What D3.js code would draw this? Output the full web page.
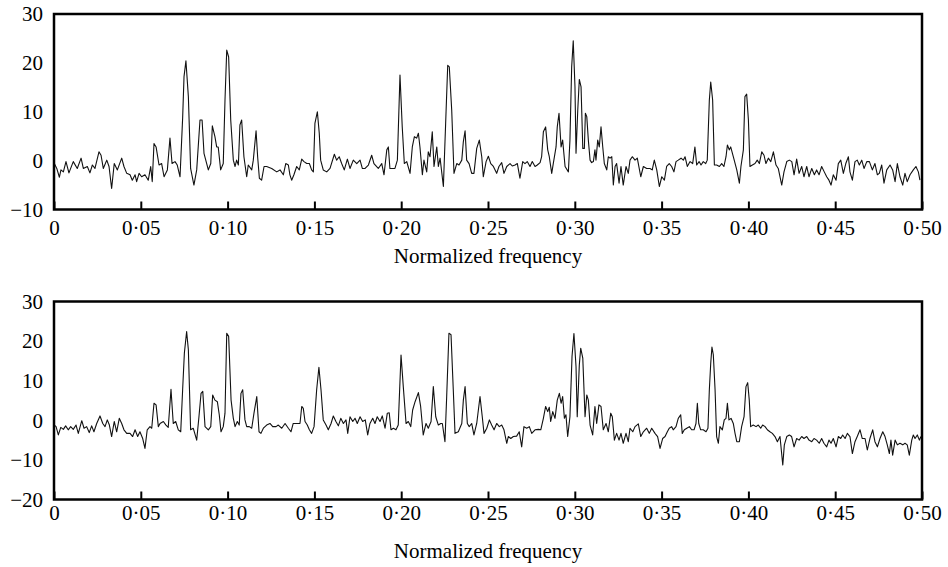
<!DOCTYPE html>
<html><head><meta charset="utf-8">
<script src="https://cdn.jsdelivr.net/npm/d3@7/dist/d3.min.js"></script>
<style>body{margin:0;background:#fff}svg{display:block}</style>
</head><body><svg id="chart" width="948" height="567"></svg>
<script>
// ---------- data ----------
const xTicks = [0, 0.05, 0.10, 0.15, 0.20, 0.25, 0.30, 0.35, 0.40, 0.45, 0.50];
const xTickLabels = ["0", "0·05", "0·10", "0·15", "0·20", "0·25", "0·30", "0·35", "0·40", "0·45", "0·50"];
const topYTicks = [-10, 0, 10, 20, 30];
const bottomYTicks = [-20, -10, 0, 10, 20, 30];
const xTitle = "Normalized frequency";

// [normalized frequency, level]
const topSpectrum = [[0.0002,-0.6],[0.0016,-1.6],[0.0031,-3.4],[0.0040,-1.9],[0.0054,-2.3],[0.0069,-0.2],[0.0086,-2.5],[0.0111,-0.2],[0.0134,-1.6],[0.0156,0.5],[0.0169,-1.6],[0.0192,-1.2],[0.0207,-2.5],[0.0221,-0.9],[0.0236,-1.6],[0.0259,1.8],[0.0271,1.1],[0.0284,-1.6],[0.0304,0.1],[0.0317,-1.2],[0.0332,-5.7],[0.0347,-0.6],[0.0365,-1.9],[0.0390,0.5],[0.0403,-1.2],[0.0419,-2.6],[0.0438,-2.9],[0.0451,-4.0],[0.0467,-2.9],[0.0476,-4.3],[0.0490,-2.6],[0.0505,-3.3],[0.0524,-2.9],[0.0543,-4.0],[0.0557,-1.2],[0.0566,-4.3],[0.0576,3.5],[0.0588,2.8],[0.0605,-0.9],[0.0620,-0.6],[0.0634,-3.3],[0.0653,-1.9],[0.0668,4.6],[0.0680,-0.6],[0.0697,-0.2],[0.0710,-0.9],[0.0726,-3.3],[0.0741,8.7],[0.0749,17.2],[0.0760,20.4],[0.0774,13.1],[0.0787,-1.6],[0.0806,-5.0],[0.0822,-1.9],[0.0841,8.3],[0.0853,8.3],[0.0864,1.5],[0.0889,-1.9],[0.0903,-0.6],[0.0912,7.1],[0.0927,4.9],[0.0937,2.8],[0.0946,2.8],[0.0960,-1.9],[0.0975,-0.6],[0.0985,12.4],[0.0995,22.6],[0.1006,21.2],[0.1018,8.3],[0.1033,0.1],[0.1043,-1.2],[0.1052,0.1],[0.1062,-0.9],[0.1071,7.3],[0.1081,8.3],[0.1094,0.8],[0.1110,-3.3],[0.1119,-0.9],[0.1139,-1.9],[0.1148,0.1],[0.1164,6.1],[0.1173,0.8],[0.1183,-3.6],[0.1196,-4.0],[0.1210,-1.2],[0.1225,-1.2],[0.1254,-1.6],[0.1283,-2.3],[0.1302,-1.9],[0.1321,-2.9],[0.1335,-0.6],[0.1350,-0.9],[0.1359,-2.9],[0.1369,-4.0],[0.1382,-2.9],[0.1398,-1.2],[0.1413,-1.9],[0.1427,0.3],[0.1440,-0.2],[0.1456,-0.6],[0.1471,-0.6],[0.1484,-1.9],[0.1494,-2.3],[0.1503,7.6],[0.1517,10.0],[0.1528,5.6],[0.1536,0.1],[0.1551,-1.9],[0.1571,-2.3],[0.1590,-1.6],[0.1615,1.3],[0.1628,0.1],[0.1643,0.8],[0.1657,-0.6],[0.1672,-1.9],[0.1690,0.3],[0.1705,-1.6],[0.1724,0.1],[0.1744,-0.6],[0.1763,0.1],[0.1776,-1.6],[0.1792,-1.6],[0.1811,-0.9],[0.1830,1.1],[0.1843,-0.6],[0.1868,-1.6],[0.1888,-0.6],[0.1901,-2.9],[0.1917,2.2],[0.1926,2.8],[0.1935,-1.6],[0.1964,-1.6],[0.1978,0.1],[0.1993,17.5],[0.2006,6.9],[0.2018,-0.6],[0.2032,-0.2],[0.2051,-2.6],[0.2064,2.8],[0.2076,4.9],[0.2089,4.6],[0.2099,5.6],[0.2108,2.8],[0.2122,-2.9],[0.2131,0.1],[0.2147,-2.3],[0.2156,1.8],[0.2166,0.8],[0.2179,5.9],[0.2189,-1.2],[0.2205,2.8],[0.2214,-1.2],[0.2224,0.5],[0.2243,-5.3],[0.2256,7.6],[0.2268,19.5],[0.2277,19.2],[0.2291,10.3],[0.2304,-2.6],[0.2320,-0.6],[0.2333,-0.9],[0.2349,0.1],[0.2358,3.9],[0.2368,6.1],[0.2377,0.1],[0.2391,-0.6],[0.2406,-2.6],[0.2419,-2.6],[0.2435,2.5],[0.2450,4.2],[0.2464,0.8],[0.2473,-3.3],[0.2489,-0.2],[0.2502,0.9],[0.2516,-0.6],[0.2531,-1.2],[0.2550,-2.6],[0.2563,-1.2],[0.2579,-0.4],[0.2592,-2.6],[0.2608,-1.2],[0.2627,-0.6],[0.2640,-1.1],[0.2656,-0.9],[0.2669,-0.6],[0.2684,-3.6],[0.2700,-0.2],[0.2713,-0.6],[0.2726,-0.2],[0.2742,-1.2],[0.2755,-0.2],[0.2771,-1.2],[0.2784,-0.9],[0.2800,-0.4],[0.2809,0.8],[0.2819,5.9],[0.2832,6.9],[0.2844,2.2],[0.2853,0.8],[0.2867,-2.6],[0.2876,-0.6],[0.2892,2.8],[0.2899,6.9],[0.2909,9.7],[0.2921,2.8],[0.2930,4.2],[0.2944,-1.2],[0.2963,-2.3],[0.2972,4.2],[0.2982,19.2],[0.2991,24.5],[0.3001,15.1],[0.3007,1.5],[0.3017,10.3],[0.3026,16.6],[0.3036,15.1],[0.3046,2.5],[0.3055,2.5],[0.3061,9.7],[0.3069,9.0],[0.3078,4.2],[0.3088,0.1],[0.3097,-0.4],[0.3107,-0.2],[0.3116,2.2],[0.3122,0.1],[0.3132,4.2],[0.3141,2.8],[0.3151,6.9],[0.3161,2.8],[0.3170,-0.6],[0.3184,-1.9],[0.3193,0.8],[0.3203,0.5],[0.3213,0.8],[0.3222,-5.0],[0.3232,-1.2],[0.3241,-0.6],[0.3255,-4.6],[0.3266,-1.2],[0.3279,-5.0],[0.3295,-1.2],[0.3308,-2.6],[0.3318,0.1],[0.3331,0.8],[0.3347,0.1],[0.3360,0.5],[0.3380,-3.3],[0.3395,-1.2],[0.3414,-1.6],[0.3433,-1.6],[0.3446,-1.9],[0.3458,0.1],[0.3472,-1.9],[0.3487,-5.3],[0.3501,-3.3],[0.3516,-4.0],[0.3529,-1.2],[0.3544,-0.6],[0.3558,-1.2],[0.3571,-2.3],[0.3583,-0.2],[0.3596,0.1],[0.3612,0.5],[0.3625,0.1],[0.3635,0.8],[0.3648,-1.2],[0.3664,-0.2],[0.3679,-0.6],[0.3692,2.8],[0.3702,-0.9],[0.3716,-0.2],[0.3727,-0.9],[0.3740,-0.2],[0.3754,-0.6],[0.3763,0.1],[0.3775,12.4],[0.3783,16.1],[0.3794,12.4],[0.3804,-0.9],[0.3817,-0.9],[0.3833,-1.2],[0.3846,-0.6],[0.3859,-1.2],[0.3871,0.8],[0.3879,3.2],[0.3890,2.2],[0.3898,2.8],[0.3913,0.8],[0.3933,-1.9],[0.3948,-4.6],[0.3957,-1.2],[0.3971,2.2],[0.3980,13.1],[0.3990,13.6],[0.4000,8.3],[0.4009,-1.2],[0.4023,-0.9],[0.4038,-0.6],[0.4051,0.1],[0.4063,-0.6],[0.4077,1.8],[0.4090,1.1],[0.4101,-0.6],[0.4115,0.5],[0.4129,-0.2],[0.4144,1.8],[0.4159,-0.9],[0.4172,-1.6],[0.4192,-5.0],[0.4205,-2.3],[0.4221,-0.2],[0.4236,0.1],[0.4250,-0.2],[0.4263,-2.9],[0.4278,0.3],[0.4292,-2.6],[0.4307,-1.2],[0.4320,-3.3],[0.4336,-1.2],[0.4349,-3.3],[0.4365,-1.6],[0.4380,-2.9],[0.4393,-1.9],[0.4407,-2.9],[0.4422,-1.2],[0.4437,-2.3],[0.4451,-3.3],[0.4464,-4.0],[0.4476,-5.0],[0.4489,-2.9],[0.4505,-4.0],[0.4518,-0.6],[0.4532,0.1],[0.4547,-2.6],[0.4561,-0.6],[0.4576,0.8],[0.4585,-2.3],[0.4599,-4.0],[0.4614,-0.2],[0.4627,0.1],[0.4639,-0.9],[0.4653,0.1],[0.4666,-1.6],[0.4682,-0.2],[0.4697,-0.2],[0.4714,-1.9],[0.4729,-0.6],[0.4743,-2.9],[0.4754,-2.6],[0.4768,-0.9],[0.4781,-4.6],[0.4797,-1.9],[0.4816,-0.9],[0.4831,-1.9],[0.4845,-4.3],[0.4858,-0.6],[0.4873,-3.3],[0.4889,-5.0],[0.4902,-2.6],[0.4915,-4.3],[0.4931,-2.9],[0.4950,-1.9],[0.4965,-1.2],[0.4979,-2.3],[0.4988,-4.0]];

const bottomSpectrum = [[0.0002,-1.2],[0.0012,-1.6],[0.0025,-3.7],[0.0039,-1.8],[0.0054,-2.3],[0.0067,-1.4],[0.0082,-2.4],[0.0096,-1.6],[0.0111,-2.3],[0.0127,-1.2],[0.0140,-3.3],[0.0160,-0.1],[0.0173,-2.0],[0.0188,-1.6],[0.0203,-3.1],[0.0217,-1.4],[0.0230,-2.9],[0.0246,-0.8],[0.0265,1.1],[0.0281,-0.8],[0.0294,-1.6],[0.0307,0.1],[0.0319,-1.2],[0.0332,-4.1],[0.0347,-0.3],[0.0361,-2.9],[0.0376,0.5],[0.0390,-0.8],[0.0403,-2.4],[0.0419,-3.3],[0.0438,-3.3],[0.0453,-4.1],[0.0467,-2.4],[0.0482,-4.1],[0.0495,-2.9],[0.0511,-4.6],[0.0524,-7.1],[0.0537,-2.4],[0.0553,-1.6],[0.0563,-2.0],[0.0576,4.3],[0.0588,3.9],[0.0601,-1.6],[0.0611,-0.8],[0.0630,-0.3],[0.0645,-1.2],[0.0658,-1.8],[0.0674,7.8],[0.0687,-0.8],[0.0701,-0.3],[0.0716,-2.4],[0.0730,-2.9],[0.0741,7.7],[0.0751,17.0],[0.0764,22.4],[0.0774,17.8],[0.0787,-2.4],[0.0802,-2.0],[0.0822,-5.0],[0.0835,0.9],[0.0847,6.8],[0.0857,7.3],[0.0870,-1.6],[0.0889,-2.4],[0.0903,-1.6],[0.0914,6.4],[0.0927,5.1],[0.0941,4.7],[0.0952,1.4],[0.0962,-2.9],[0.0975,-1.6],[0.0985,1.8],[0.0995,22.0],[0.1006,21.2],[0.1020,5.1],[0.1033,0.5],[0.1043,-1.6],[0.1056,-0.3],[0.1067,-1.2],[0.1077,6.8],[0.1087,7.7],[0.1100,0.1],[0.1110,-1.6],[0.1125,-1.6],[0.1139,-2.0],[0.1152,1.8],[0.1168,6.0],[0.1181,-2.9],[0.1192,-3.3],[0.1206,-2.0],[0.1225,-1.2],[0.1244,-0.8],[0.1260,-1.6],[0.1279,-1.6],[0.1292,-1.2],[0.1312,-2.0],[0.1331,-0.8],[0.1350,-2.0],[0.1365,-2.9],[0.1378,-0.8],[0.1398,-0.8],[0.1417,-0.8],[0.1427,3.5],[0.1436,3.0],[0.1446,-0.3],[0.1459,-1.2],[0.1471,-2.4],[0.1484,-3.3],[0.1498,-1.6],[0.1513,7.7],[0.1526,13.4],[0.1538,7.7],[0.1551,0.1],[0.1567,-1.2],[0.1580,-2.4],[0.1596,-0.8],[0.1609,1.1],[0.1624,-0.3],[0.1638,-1.4],[0.1652,0.5],[0.1667,-0.8],[0.1682,0.1],[0.1692,-3.3],[0.1705,0.9],[0.1721,-0.3],[0.1734,0.5],[0.1747,-0.8],[0.1763,0.9],[0.1778,-0.3],[0.1793,0.1],[0.1807,-3.7],[0.1820,-0.8],[0.1836,0.5],[0.1849,-0.8],[0.1862,0.9],[0.1878,-0.3],[0.1891,1.1],[0.1907,-2.0],[0.1920,1.8],[0.1931,1.9],[0.1941,-2.4],[0.1955,-2.0],[0.1970,-2.4],[0.1983,-1.2],[0.1999,16.5],[0.2012,8.5],[0.2028,-0.8],[0.2041,-0.3],[0.2055,-1.6],[0.2066,2.6],[0.2080,4.7],[0.2099,7.0],[0.2112,3.5],[0.2127,-3.7],[0.2143,-0.8],[0.2156,-2.0],[0.2172,-0.3],[0.2185,8.5],[0.2199,0.9],[0.2214,-1.2],[0.2228,-0.8],[0.2237,-0.8],[0.2252,-5.4],[0.2262,6.0],[0.2275,22.0],[0.2287,21.6],[0.2300,7.7],[0.2310,-3.3],[0.2329,-2.9],[0.2349,-0.8],[0.2358,5.1],[0.2368,8.5],[0.2381,-0.8],[0.2392,-1.6],[0.2406,-0.8],[0.2419,-3.7],[0.2435,-0.8],[0.2454,6.0],[0.2467,0.9],[0.2477,-3.3],[0.2493,-2.0],[0.2508,0.1],[0.2521,-1.2],[0.2535,-2.4],[0.2550,-0.8],[0.2565,-1.6],[0.2579,-1.2],[0.2592,-2.4],[0.2608,-5.8],[0.2617,-4.1],[0.2631,-4.6],[0.2646,-4.1],[0.2665,-4.0],[0.2680,-2.9],[0.2694,-6.7],[0.2707,-1.6],[0.2723,-2.0],[0.2738,-1.6],[0.2752,-3.3],[0.2771,-2.4],[0.2790,-2.3],[0.2804,-2.4],[0.2819,0.5],[0.2832,3.5],[0.2844,2.2],[0.2853,3.3],[0.2861,-0.3],[0.2873,2.2],[0.2886,0.5],[0.2899,5.1],[0.2911,6.8],[0.2921,4.3],[0.2930,6.0],[0.2940,0.5],[0.2949,1.4],[0.2959,-4.1],[0.2972,0.9],[0.2984,16.1],[0.2995,21.9],[0.3007,13.6],[0.3014,0.9],[0.3026,14.0],[0.3034,18.2],[0.3046,15.7],[0.3059,0.9],[0.3069,6.4],[0.3078,5.1],[0.3088,-1.2],[0.3103,-3.7],[0.3116,3.5],[0.3126,-0.8],[0.3139,3.9],[0.3151,3.5],[0.3164,-2.4],[0.3180,-0.8],[0.3193,-2.9],[0.3207,1.8],[0.3216,0.9],[0.3228,-5.0],[0.3241,-3.3],[0.3255,-5.0],[0.3266,-3.3],[0.3279,-5.8],[0.3295,-3.3],[0.3308,-5.4],[0.3318,-2.0],[0.3334,-2.9],[0.3347,-1.6],[0.3366,-0.9],[0.3380,-4.1],[0.3395,-2.9],[0.3414,-2.0],[0.3429,-3.3],[0.3443,-2.0],[0.3462,-3.3],[0.3477,-4.1],[0.3491,-7.1],[0.3506,-4.6],[0.3520,-4.1],[0.3533,-2.9],[0.3544,-2.0],[0.3558,-1.6],[0.3567,-2.4],[0.3583,-1.6],[0.3596,0.5],[0.3610,1.4],[0.3619,-3.3],[0.3631,-2.4],[0.3645,-2.0],[0.3660,-1.6],[0.3673,-2.4],[0.3687,-2.4],[0.3698,-0.8],[0.3706,4.3],[0.3714,-0.8],[0.3725,-2.4],[0.3740,-2.4],[0.3756,-2.9],[0.3767,-2.0],[0.3775,7.7],[0.3783,14.4],[0.3790,18.5],[0.3798,16.5],[0.3808,7.7],[0.3817,-4.1],[0.3827,-5.8],[0.3836,-1.6],[0.3850,-2.4],[0.3861,0.1],[0.3871,0.5],[0.3879,4.3],[0.3888,0.1],[0.3900,0.5],[0.3913,-0.8],[0.3923,-3.3],[0.3933,-5.4],[0.3948,-5.4],[0.3961,-1.6],[0.3975,0.9],[0.3986,8.5],[0.3996,9.5],[0.4005,5.1],[0.4013,-1.6],[0.4028,-1.2],[0.4044,-1.6],[0.4057,-1.2],[0.4071,-2.0],[0.4082,-1.2],[0.4096,-1.6],[0.4109,-2.4],[0.4124,-2.9],[0.4138,-3.3],[0.4153,-4.1],[0.4167,-5.4],[0.4182,-4.1],[0.4198,-11.3],[0.4207,-6.2],[0.4221,-4.1],[0.4236,-3.7],[0.4249,-4.1],[0.4263,-6.7],[0.4278,-4.6],[0.4292,-5.0],[0.4307,-4.1],[0.4320,-4.6],[0.4336,-4.1],[0.4349,-5.0],[0.4365,-5.4],[0.4378,-4.6],[0.4393,-5.0],[0.4408,-5.8],[0.4422,-4.6],[0.4435,-5.8],[0.4451,-6.7],[0.4464,-5.0],[0.4476,-5.8],[0.4489,-4.6],[0.4505,-6.7],[0.4518,-4.1],[0.4532,-4.6],[0.4543,-3.7],[0.4557,-4.6],[0.4570,-3.3],[0.4585,-4.1],[0.4599,-8.4],[0.4614,-5.4],[0.4627,-4.1],[0.4643,-2.4],[0.4656,-4.6],[0.4672,-4.6],[0.4685,-7.5],[0.4700,-4.6],[0.4716,-2.4],[0.4729,-5.4],[0.4743,-6.7],[0.4758,-4.6],[0.4774,-2.9],[0.4787,-4.1],[0.4800,-6.2],[0.4812,-8.4],[0.4821,-5.0],[0.4831,-8.8],[0.4845,-5.0],[0.4858,-6.2],[0.4873,-5.8],[0.4889,-6.2],[0.4902,-5.8],[0.4915,-6.2],[0.4927,-8.8],[0.4941,-5.0],[0.4950,-3.7],[0.4960,-4.6],[0.4973,-3.7],[0.4985,-5.0],[0.4994,-4.1]];

// ---------- drawing ----------
const svg = d3.select("#chart");
const FONT = "'Liberation Serif', 'Times New Roman', serif";
const left = 54, right = 922;

function fmtY(d) { return d < 0 ? "\u2212" + Math.abs(d) : String(d); }

function drawPanel(data, yTicks, top, bottom, labelPad, titleBase) {
  const x = d3.scaleLinear().domain([0, 0.5]).range([left, right]);
  const y = d3.scaleLinear().domain([yTicks[0], yTicks[yTicks.length - 1]]).range([bottom, top]);
  const g = svg.append("g");

  const line = d3.line().x(d => x(d[0])).y(d => y(d[1]));
  g.append("path").datum(data)
    .attr("d", line)
    .attr("fill", "none")
    .attr("stroke", "#111")
    .attr("stroke-width", 1.1)
    .attr("stroke-linejoin", "round");

  // x axis (ticks inward)
  const xa = g.append("g").attr("transform", `translate(0,${bottom})`)
    .call(d3.axisBottom(x).tickValues(xTicks).tickSize(-8).tickPadding(labelPad)
      .tickFormat((d, i) => xTickLabels[i]));
  xa.select(".domain").remove();
  xa.selectAll(".tick line").attr("stroke", "#000").attr("stroke-width", 2);
  xa.selectAll("text").attr("font-family", FONT).attr("font-size", 21).attr("fill", "#000");

  // y axis (labels only)
  const ya = g.append("g").attr("transform", `translate(${left},0)`)
    .call(d3.axisLeft(y).tickValues(yTicks).tickSize(0).tickPadding(11).tickFormat(fmtY));
  ya.select(".domain").remove();
  ya.selectAll("text").attr("font-family", FONT).attr("font-size", 21).attr("fill", "#000");

  // frame
  g.append("rect")
    .attr("x", left).attr("y", top)
    .attr("width", right - left).attr("height", bottom - top)
    .attr("fill", "none").attr("stroke", "#000").attr("stroke-width", 2.5);

  g.append("text")
    .attr("x", (left + right) / 2).attr("y", titleBase)
    .attr("text-anchor", "middle")
    .attr("font-family", FONT).attr("font-size", 21).attr("fill", "#000")
    .text(xTitle);
}

drawPanel(topSpectrum, topYTicks, 14, 209.5, 11, 263);
drawPanel(bottomSpectrum, bottomYTicks, 301.5, 499.5, 6, 558);
</script>
</body></html>
